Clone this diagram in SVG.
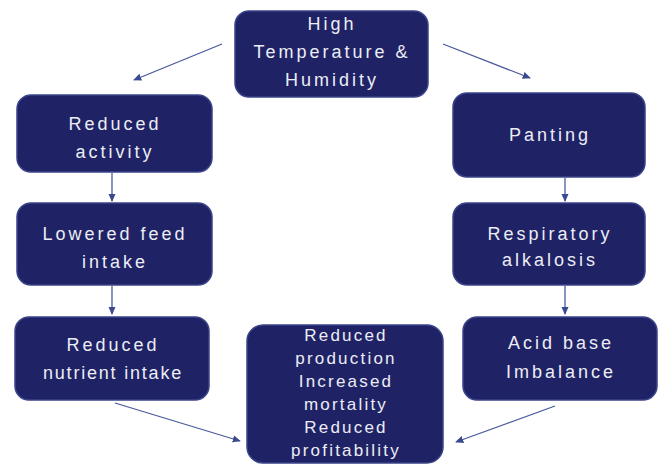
<svg xmlns="http://www.w3.org/2000/svg" width="658" height="465" viewBox="0 0 658 465">
<defs>
<style>
.box{fill:#1f2366;stroke:#3a4488;stroke-width:1.5}
.t{font-family:"Liberation Sans",Arial,sans-serif;font-size:18px;fill:#ecedf4;text-anchor:middle;letter-spacing:3px}
.s{font-size:17px;letter-spacing:2.2px}
.n{letter-spacing:1.8px}
.c{stroke:#4a5a9c;stroke-width:1.3;fill:none;marker-end:url(#ah)}
</style>
<marker id="ah" viewBox="0 0 10 10" refX="8" refY="5" markerWidth="7" markerHeight="7" orient="auto-start-reverse">
<path d="M0,1 L9,5 L0,9 z" fill="#3a4a90"/>
</marker>
</defs>
<rect width="658" height="465" fill="#ffffff"/>
<g id="connectors">
<line class="c" x1="222" y1="44" x2="134" y2="80"/>
<line class="c" x1="443" y1="44" x2="530" y2="78"/>
<line class="c" x1="112" y1="173" x2="112" y2="201"/>
<line class="c" x1="112" y1="286" x2="112" y2="314"/>
<line class="c" x1="565" y1="178" x2="565" y2="201"/>
<line class="c" x1="565" y1="286" x2="565" y2="314"/>
<line class="c" x1="115" y1="403" x2="240" y2="441"/>
<line class="c" x1="555" y1="406" x2="456" y2="442"/>
</g>
<g id="n-high">
<rect class="box" x="235" y="11" width="193" height="86" rx="14"/>
<text class="t" x="332" y="30">High</text>
<text class="t" x="332" y="58">Temperature &amp;</text>
<text class="t" x="332" y="86">Humidity</text>
</g>
<g id="n-activity">
<rect class="box" x="17" y="95" width="195" height="77" rx="14"/>
<text class="t" x="115" y="130">Reduced</text>
<text class="t" x="115" y="158">activity</text>
</g>
<g id="n-feed">
<rect class="box" x="17" y="203" width="195" height="82" rx="14"/>
<text class="t" x="115" y="240">Lowered feed</text>
<text class="t" x="115" y="268">intake</text>
</g>
<g id="n-nutrient">
<rect class="box" x="15" y="317" width="194" height="83" rx="14"/>
<text class="t" x="113" y="351">Reduced</text>
<text class="t n" x="113" y="379">nutrient intake</text>
</g>
<g id="n-panting">
<rect class="box" x="453" y="93" width="192" height="84" rx="14"/>
<text class="t" x="550" y="141">Panting</text>
</g>
<g id="n-resp">
<rect class="box" x="453" y="203" width="192" height="82" rx="14"/>
<text class="t" x="550" y="240">Respiratory</text>
<text class="t" x="550" y="266">alkalosis</text>
</g>
<g id="n-acid">
<rect class="box" x="463" y="317" width="194" height="83" rx="14"/>
<text class="t" x="561" y="349">Acid base</text>
<text class="t" x="561" y="378">Imbalance</text>
</g>
<g id="n-result">
<rect class="box" x="247" y="325" width="196" height="138" rx="16"/>
<text class="t s" x="346" y="341">Reduced</text>
<text class="t s" x="346" y="364">production</text>
<text class="t s" x="346" y="387">Increased</text>
<text class="t s" x="346" y="410">mortality</text>
<text class="t s" x="346" y="433">Reduced</text>
<text class="t s" x="346" y="456">profitability</text>
</g>
</svg>
